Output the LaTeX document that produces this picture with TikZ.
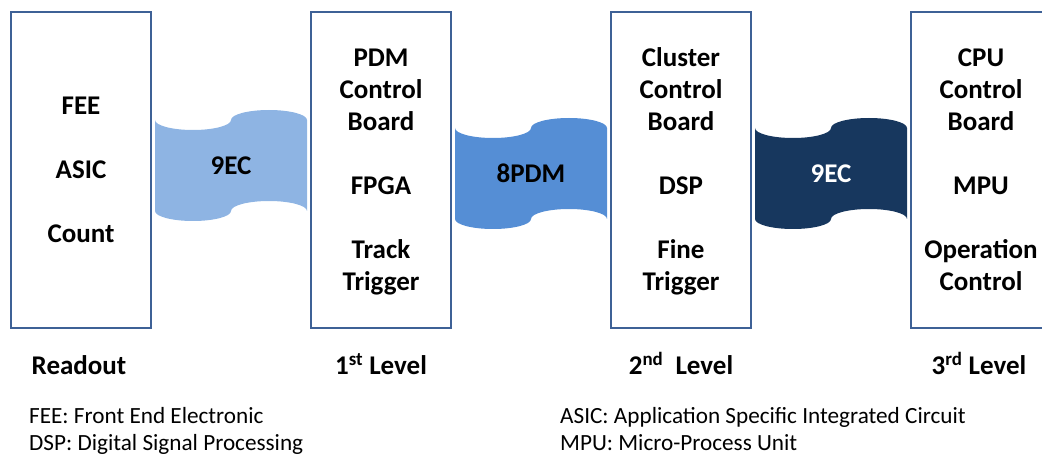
\documentclass[tikz,border=0pt]{standalone}
\usepackage{fontspec}
\setmainfont{Carlito}
\definecolor{frame}{HTML}{3E6196}
\definecolor{tapeA}{HTML}{8EB4E3}
\definecolor{tapeB}{HTML}{558ED5}
\definecolor{tapeC}{HTML}{17375E}
\tikzset{
  stage/.style={draw=frame, line width=2.8pt, fill=white, minimum width=140pt,
    minimum height=316pt, inner sep=0pt, align=center},
  stagetext/.style={inner sep=0pt, align=center,
    font=\fontsize{27}{32}\selectfont\bfseries},
  tapelabel/.style={font=\fontsize{27}{32}\selectfont\bfseries},
  levellabel/.style={anchor=base, font=\fontsize{27}{32}\selectfont\bfseries},
  note/.style={anchor=base west, inner sep=0pt, font=\fontsize{23.2}{27}\selectfont},
  % punched-tape band: top-left corner at the pic origin, 152 wide, 91 high
  pics/tape/.style={code={
    \fill[#1] (0,0) .. controls (0,5.52) and (17.02,10) .. (38,10)
      .. controls (58.98,10) and (76,5.52) .. (76,0)
      .. controls (76,-5.52) and (93.02,-10) .. (114,-10)
      .. controls (134.98,-10) and (152,-5.52) .. (152,0)
      -- (152,91)
      .. controls (152,85.48) and (134.98,81) .. (114,81)
      .. controls (93.02,81) and (76,85.48) .. (76,91)
      .. controls (76,96.52) and (58.98,101) .. (38,101)
      .. controls (17.02,101) and (0,96.52) .. (0,91) -- cycle;
  }}
}
\begin{document}
\begin{tikzpicture}[x=1pt,y=-1pt]
\useasboundingbox (0,0) rectangle (1042,454);
\clip (0,0) rectangle (1042,454);

% processing stages
\node[stage] (readout) at (81,170) {};
\node[stage] (first) at (381,170) {};
\node[stage] (second) at (681,170) {};
\node[stage] (third) at (981,170) {};

% stage contents
\node[stagetext] (readoutT) at ([yshift=-2.5pt]readout.center)
  {\strut FEE\\[32pt]\strut ASIC\\[32pt]\strut Count};
\node[stagetext] (firstT) at ([yshift=-2.5pt]first.center)
  {\strut PDM\\\strut Control\\\strut Board\\[32pt]\strut FPGA\\[32pt]\strut Track\\\strut Trigger};
\node[stagetext] (secondT) at ([yshift=-2.5pt]second.center)
  {\strut Cluster\\\strut Control\\\strut Board\\[32pt]\strut DSP\\[32pt]\strut Fine\\\strut Trigger};
\node[stagetext] (thirdT) at ([yshift=-2.5pt]third.center)
  {\strut CPU\\\strut Control\\\strut Board\\[32pt]\strut MPU\\[32pt]\strut Operation\\\strut Control};

% links between stages
\pic at (155,120) {tape=tapeA};
\node[tapelabel] (linkA) at (231,165.5) {9EC};
\pic at (455,128) {tape=tapeB};
\node[tapelabel] (linkB) at (531,173.5) {8PDM};
\pic at (755,128) {tape=tapeC};
\node[tapelabel, text=white] (linkC) at (831,173.5) {9EC};

% level captions
\node[levellabel] (capR) at (79,375) {Readout};
\node[levellabel] (cap1) at (381,375) {1\textsuperscript{st} Level};
\node[levellabel] (cap2) at (681,375) {2\textsuperscript{nd}\ \ Level};
\node[levellabel] (cap3) at (979,375) {3\textsuperscript{rd} Level};

% abbreviations
\node[note] (nFEE) at (29,423) {FEE: Front End Electronic};
\node[note] (nDSP) at (29,450) {DSP: Digital Signal Processing};
\node[note] (nASIC) at (560,423) {ASIC: Application Specific Integrated Circuit};
\node[note] (nMPU) at (560,450) {MPU: Micro-Process Unit};
\end{tikzpicture}
\end{document}
